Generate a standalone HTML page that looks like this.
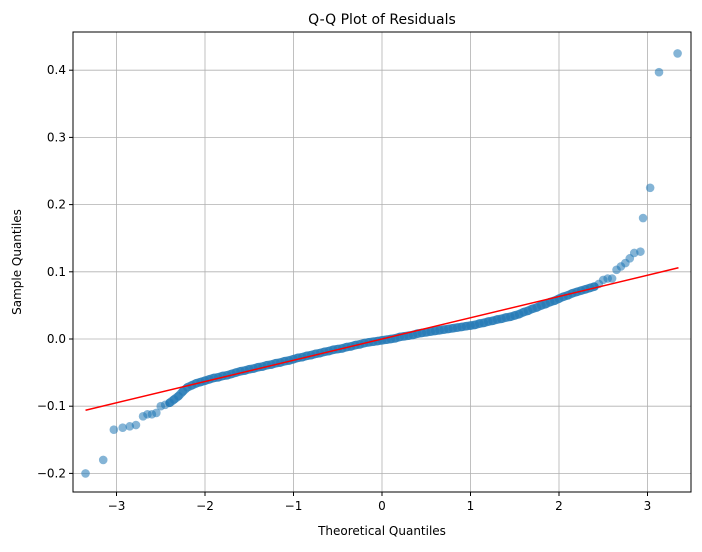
<!DOCTYPE html>
<html><head><meta charset="utf-8">
<style>
body{margin:0;background:#fff;font-family:"Liberation Sans","DejaVu Sans",sans-serif;}
svg text{font-family:"DejaVu Sans","Liberation Sans",sans-serif;}
</style></head>
<body>
<svg id="chart" width="702" height="547" xmlns="http://www.w3.org/2000/svg">
<rect width="702" height="547" fill="#fff"/>
<text x="382" y="24" text-anchor="middle" font-size="14">Q-Q Plot of Residuals</text>
<g id="grid"></g>
<g id="points"></g>
<g id="fitline"></g>
<rect x="73" y="32" width="618" height="460" fill="none" stroke="#000" stroke-width="1"/>
<g id="axes"></g>
<text x="382" y="535" text-anchor="middle" font-size="12">Theoretical Quantiles</text>
<text x="21" y="262" text-anchor="middle" font-size="12" transform="rotate(-90 21 262)">Sample Quantiles</text>
</svg>
<script>
const xTicks=[-3,-2,-1,0,1,2,3];
const yTicks=[-0.2,-0.1,0.0,0.1,0.2,0.3,0.4];
const tailLowX=[-3.35,-3.15,-3.03,-2.93,-2.85,-2.78,-2.70,-2.65,-2.60,-2.55,-2.50,-2.45];
const tailLowY=[-0.200,-0.180,-0.135,-0.132,-0.130,-0.128,-0.115,-0.112,-0.112,-0.110,-0.100,-0.098];
const midX=[-2.40,-2.35,-2.30,-2.25,-2.20,-2.15,-2.10,-2.05,-2.00,-1.95,-1.90,-1.85,-1.80,-1.75,-1.70,-1.65,-1.60,-1.55,-1.50,-1.45,-1.40,-1.35,-1.30,-1.25,-1.20,-1.15,-1.10,-1.05,-1.00,-0.95,-0.90,-0.85,-0.80,-0.75,-0.70,-0.65,-0.60,-0.55,-0.50,-0.45,-0.40,-0.35,-0.30,-0.25,-0.20,-0.15,-0.10,-0.05,0.00,0.05,0.10,0.15,0.20,0.25,0.30,0.35,0.40,0.45,0.50,0.55,0.60,0.65,0.70,0.75,0.80,0.85,0.90,0.95,1.00,1.05,1.10,1.15,1.20,1.25,1.30,1.35,1.40,1.45,1.50,1.55,1.60,1.65,1.70,1.75,1.80,1.85,1.90,1.95,2.00,2.05,2.10,2.15,2.20,2.25,2.30,2.35,2.40];
const midY=[-0.095,-0.090,-0.085,-0.078,-0.072,-0.069,-0.066,-0.064,-0.062,-0.060,-0.058,-0.057,-0.055,-0.054,-0.052,-0.050,-0.048,-0.047,-0.045,-0.044,-0.042,-0.041,-0.039,-0.038,-0.036,-0.035,-0.033,-0.032,-0.030,-0.028,-0.027,-0.025,-0.024,-0.022,-0.021,-0.019,-0.018,-0.016,-0.015,-0.014,-0.012,-0.011,-0.009,-0.008,-0.006,-0.005,-0.004,-0.003,-0.002,-0.001,0.000,0.001,0.003,0.004,0.005,0.006,0.008,0.009,0.010,0.011,0.012,0.013,0.014,0.015,0.016,0.017,0.018,0.019,0.020,0.021,0.023,0.024,0.026,0.027,0.029,0.030,0.032,0.033,0.035,0.037,0.040,0.042,0.045,0.047,0.050,0.052,0.055,0.057,0.060,0.063,0.065,0.068,0.070,0.072,0.074,0.076,0.078];
const tailHighX=[2.45,2.50,2.55,2.60,2.65,2.70,2.75,2.80,2.85,2.92,2.95,3.03,3.13,3.34];
const tailHighY=[0.082,0.088,0.090,0.090,0.103,0.108,0.113,0.120,0.128,0.130,0.180,0.225,0.397,0.425];
const fitX=[-3.35,3.35];
const fitY=[-0.106,0.106];

const X=v=>382+v*88.5;
const Y=v=>339-v*672;
const NS='http://www.w3.org/2000/svg';
function mk(tag,attrs,parent){const e=document.createElementNS(NS,tag);for(const k in attrs)e.setAttribute(k,attrs[k]);parent.appendChild(e);return e;}
const grid=document.getElementById('grid'),axes=document.getElementById('axes'),pts=document.getElementById('points'),fit=document.getElementById('fitline');
xTicks.forEach(t=>{
 const g=mk('line',{x1:X(t),x2:X(t),y1:32,y2:492,stroke:'#b0b0b0','stroke-width':0.8},grid);
 
 
 mk('line',{x1:X(t),x2:X(t),y1:492,y2:496,stroke:'#000'},axes);
 const l=mk('text',{x:X(t),y:510,'text-anchor':'middle','font-size':12},axes);
 l.textContent=(t<0?'\u2212'+Math.abs(t):String(t));
 
 
});
yTicks.forEach(t=>{
 const g=mk('line',{x1:73,x2:691,y1:Y(t),y2:Y(t),stroke:'#b0b0b0','stroke-width':0.8},grid);
 
 
 mk('line',{x1:69,x2:73,y1:Y(t),y2:Y(t),stroke:'#000'},axes);
 const l=mk('text',{x:66,y:Y(t)+4,'text-anchor':'end','font-size':12},axes);
 l.textContent=(t<0?'\u2212'+Math.abs(t).toFixed(1):t.toFixed(1));
 
 
});
// dense band through the central quantiles
const band=mk('polyline',{points:midX.map((x,i)=>X(x)+','+Y(midY[i])).join(' '),fill:'none',stroke:'#1f77b4','stroke-opacity':0.75,'stroke-width':8.5,'stroke-linecap':'round','stroke-linejoin':'round'},pts);


[[tailLowX,tailLowY],[midX,midY],[tailHighX,tailHighY]].forEach(([xs,ys])=>{
 xs.forEach((x,i)=>{
  const c=mk('circle',{cx:X(x),cy:Y(ys[i]),r:4.3,fill:'#1f77b4','fill-opacity':0.55},pts);
  
  
 });
});
const ln=mk('line',{x1:X(fitX[0]),y1:Y(fitY[0]),x2:X(fitX[1]),y2:Y(fitY[1]),stroke:'#ff0000','stroke-width':1.5},fit);


</script>
</body></html>
